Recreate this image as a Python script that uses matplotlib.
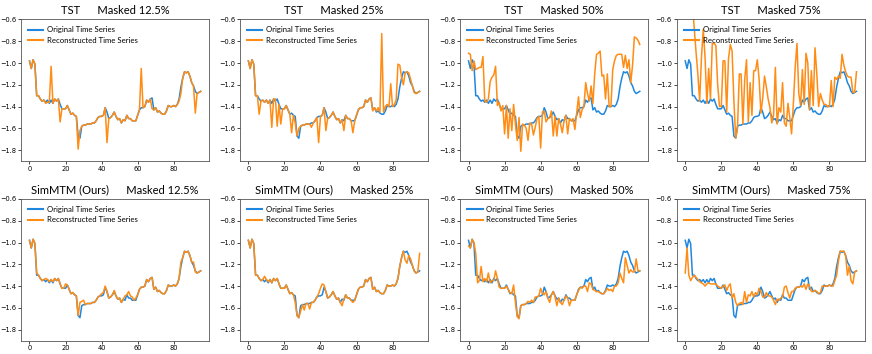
import matplotlib
matplotlib.use("Agg")
import matplotlib.pyplot as plt
import numpy as np

steps = list(range(96))

original = [
    -0.98, -1.05, -0.97, -1.01, -1.30, -1.30, -1.33, -1.35, -1.34, -1.36,
    -1.34, -1.37, -1.34, -1.37, -1.33, -1.35, -1.33, -1.38, -1.42, -1.42,
    -1.42, -1.39, -1.43, -1.47, -1.46, -1.48, -1.49, -1.67, -1.69, -1.58,
    -1.57, -1.57, -1.56, -1.56, -1.56, -1.55, -1.55, -1.53, -1.50, -1.49,
    -1.49, -1.48, -1.41, -1.45, -1.51, -1.50, -1.48, -1.45, -1.49, -1.52,
    -1.51, -1.55, -1.52, -1.53, -1.48, -1.51, -1.51, -1.53, -1.53, -1.53,
    -1.48, -1.43, -1.41, -1.41, -1.40, -1.34, -1.36, -1.33, -1.32, -1.43,
    -1.41, -1.45, -1.44, -1.46, -1.47, -1.47, -1.44, -1.39, -1.40, -1.40,
    -1.39, -1.40, -1.38, -1.33, -1.22, -1.14, -1.08, -1.09, -1.08, -1.12,
    -1.18, -1.21, -1.26, -1.28, -1.27, -1.26,
]

tst_125 = [
    -0.98, -1.05, -0.97, -1.01, -1.30, -1.30, -1.33, -1.35, -1.34, -1.37,
    -1.36, -1.36, -1.03, -1.37, -1.33, -1.35, -1.33, -1.54, -1.42, -1.42,
    -1.42, -1.39, -1.43, -1.47, -1.46, -1.48, -1.49, -1.79, -1.62, -1.58,
    -1.57, -1.57, -1.56, -1.56, -1.56, -1.55, -1.55, -1.53, -1.50, -1.49,
    -1.49, -1.48, -1.41, -1.73, -1.51, -1.50, -1.48, -1.45, -1.49, -1.52,
    -1.51, -1.55, -1.52, -1.53, -1.48, -1.51, -1.51, -1.53, -1.53, -1.53,
    -1.48, -1.43, -1.05, -1.41, -1.40, -1.34, -1.36, -1.33, -1.42, -1.43,
    -1.41, -1.45, -1.44, -1.46, -1.47, -1.47, -1.44, -1.39, -1.40, -1.40,
    -1.39, -1.40, -1.38, -1.35, -1.28, -1.14, -1.08, -1.09, -1.08, -1.12,
    -1.18, -1.21, -1.46, -1.28, -1.27, -1.26,
]

tst_25 = [
    -0.98, -1.05, -0.97, -1.01, -1.30, -1.30, -1.47, -1.35, -1.34, -1.36,
    -1.34, -1.37, -1.34, -1.59, -1.33, -1.33, -1.58, -1.38, -1.56, -1.42,
    -1.42, -1.39, -1.43, -1.47, -1.64, -1.48, -1.55, -1.67, -1.60, -1.58,
    -1.57, -1.57, -1.56, -1.56, -1.56, -1.59, -1.55, -1.53, -1.50, -1.73,
    -1.49, -1.48, -1.41, -1.62, -1.51, -1.50, -1.48, -1.45, -1.49, -1.52,
    -1.51, -1.55, -1.52, -1.62, -1.48, -1.51, -1.51, -1.53, -1.64, -1.53,
    -1.48, -1.43, -1.41, -1.41, -1.40, -1.34, -1.36, -1.33, -1.32, -1.44,
    -1.41, -1.44, -1.41, -1.45, -0.73, -1.45, -1.40, -1.38, -1.40, -1.19,
    -1.40, -1.38, -1.34, -1.01, -1.02, -1.13, -1.20, -1.09, -1.08, -1.09,
    -1.15, -1.21, -1.27, -1.28, -1.27, -1.26,
]

tst_50 = [
    -0.91, -0.92, -1.07, -0.98, -1.06, -1.05, -1.04, -1.04, -0.94, -1.35,
    -1.36, -1.33, -1.17, -1.13, -1.11, -1.03, -1.39, -1.36, -1.44, -1.39,
    -1.65, -1.39, -1.69, -1.42, -1.62, -1.38, -1.56, -1.71, -1.50, -1.81,
    -1.56, -1.57, -1.60, -1.71, -1.55, -1.56, -1.66, -1.59, -1.51, -1.49,
    -1.78, -1.45, -1.44, -1.54, -1.51, -1.50, -1.44, -1.67, -1.49, -1.67,
    -1.51, -1.56, -1.64, -1.53, -1.48, -1.65, -1.51, -1.53, -1.51, -1.61,
    -1.46, -1.31, -1.50, -1.43, -1.40, -1.18, -1.28, -1.35, -1.21, -1.37,
    -1.10, -0.92, -0.91, -0.89, -1.12, -1.11, -1.33, -1.10, -1.40, -1.40,
    -1.06, -0.98, -0.93, -0.92, -0.92, -0.92, -1.04, -0.93, -1.05, -0.97,
    -1.18, -1.02, -0.76, -0.77, -0.79, -0.83,
]

tst_75 = [
    -0.30, -0.34, -0.38, -0.42, -0.46, -0.68, -0.90, -1.10, -1.35, -0.95,
    -0.69, -0.95, -1.37, -1.05, -1.33, -0.82, -0.82, -0.84, -1.20, -1.40,
    -1.40, -0.98, -0.98, -1.45, -0.96, -0.83, -0.89, -1.35, -1.69, -1.60,
    -1.10, -1.10, -1.56, -1.15, -0.97, -1.54, -1.18, -1.48, -1.07, -1.07,
    -0.97, -1.15, -1.46, -1.32, -1.12, -1.22, -1.33, -1.41, -1.55, -1.48,
    -1.04, -1.56, -1.41, -1.45, -1.18, -1.55, -1.58, -1.37, -1.50, -1.65,
    -1.37, -1.04, -0.82, -1.28, -1.39, -1.06, -1.38, -0.91, -1.00, -1.43,
    -1.07, -1.39, -0.86, -1.10, -1.40, -1.28, -1.34, -1.38, -1.38, -1.40,
    -1.40, -1.16, -1.40, -1.13, -1.15, -1.12, -1.14, -0.92, -1.02, -1.08,
    -1.12, -1.13, -1.13, -1.27, -1.27, -1.08,
]

sim_125 = [
    -0.98, -1.05, -0.97, -1.01, -1.28, -1.30, -1.33, -1.35, -1.34, -1.33,
    -1.34, -1.36, -1.34, -1.36, -1.33, -1.35, -1.33, -1.38, -1.42, -1.42,
    -1.38, -1.39, -1.43, -1.47, -1.46, -1.48, -1.49, -1.67, -1.55, -1.54,
    -1.53, -1.57, -1.56, -1.56, -1.56, -1.55, -1.55, -1.53, -1.50, -1.49,
    -1.47, -1.46, -1.40, -1.45, -1.51, -1.50, -1.48, -1.44, -1.49, -1.52,
    -1.51, -1.55, -1.52, -1.49, -1.48, -1.45, -1.49, -1.50, -1.53, -1.51,
    -1.48, -1.43, -1.41, -1.41, -1.40, -1.34, -1.36, -1.33, -1.32, -1.43,
    -1.41, -1.45, -1.44, -1.46, -1.47, -1.47, -1.44, -1.39, -1.40, -1.40,
    -1.39, -1.40, -1.38, -1.33, -1.18, -1.14, -1.08, -1.09, -1.08, -1.12,
    -1.18, -1.18, -1.27, -1.28, -1.27, -1.26,
]

sim_25 = [
    -0.98, -1.05, -0.97, -1.01, -1.30, -1.30, -1.33, -1.35, -1.34, -1.31,
    -1.34, -1.36, -1.34, -1.37, -1.33, -1.35, -1.33, -1.38, -1.42, -1.42,
    -1.42, -1.39, -1.43, -1.47, -1.46, -1.48, -1.55, -1.67, -1.69, -1.63,
    -1.57, -1.62, -1.56, -1.56, -1.61, -1.55, -1.55, -1.53, -1.50, -1.47,
    -1.42, -1.38, -1.39, -1.45, -1.51, -1.50, -1.48, -1.45, -1.49, -1.52,
    -1.51, -1.55, -1.58, -1.52, -1.48, -1.51, -1.51, -1.53, -1.55, -1.53,
    -1.48, -1.43, -1.41, -1.41, -1.40, -1.34, -1.36, -1.33, -1.32, -1.43,
    -1.41, -1.45, -1.44, -1.46, -1.47, -1.47, -1.44, -1.39, -1.40, -1.40,
    -1.39, -1.40, -1.38, -1.33, -1.22, -1.14, -1.08, -1.16, -1.19, -1.12,
    -1.15, -1.21, -1.26, -1.28, -1.27, -1.10,
]

sim_50 = [
    -1.03, -1.05, -0.97, -1.00, -1.10, -1.37, -1.35, -1.22, -1.36, -1.33,
    -1.36, -1.28, -1.37, -1.35, -1.35, -1.26, -1.33, -1.41, -1.42, -1.42,
    -1.42, -1.40, -1.43, -1.46, -1.47, -1.39, -1.55, -1.68, -1.70, -1.58,
    -1.57, -1.57, -1.56, -1.54, -1.55, -1.53, -1.55, -1.50, -1.50, -1.49,
    -1.42, -1.47, -1.48, -1.45, -1.51, -1.55, -1.48, -1.45, -1.50, -1.58,
    -1.51, -1.55, -1.57, -1.53, -1.49, -1.51, -1.58, -1.53, -1.53, -1.53,
    -1.48, -1.44, -1.41, -1.42, -1.40, -1.40, -1.45, -1.37, -1.38, -1.43,
    -1.44, -1.45, -1.45, -1.46, -1.47, -1.47, -1.45, -1.42, -1.44, -1.43,
    -1.45, -1.40, -1.40, -1.37, -1.28, -1.33, -1.37, -1.14, -1.21, -1.28,
    -1.25, -1.27, -1.27, -1.15, -1.26, -1.26,
]

sim_75 = [
    -1.28, -1.05, -1.30, -1.35, -1.32, -1.30, -1.32, -1.34, -1.36, -1.37,
    -1.38, -1.40, -1.38, -1.37, -1.38, -1.38, -1.38, -1.38, -1.40, -1.41,
    -1.42, -1.40, -1.39, -1.44, -1.40, -1.38, -1.51, -1.47, -1.55, -1.58,
    -1.56, -1.55, -1.57, -1.45, -1.55, -1.48, -1.49, -1.45, -1.50, -1.46,
    -1.48, -1.42, -1.45, -1.50, -1.50, -1.46, -1.49, -1.49, -1.50, -1.53,
    -1.57, -1.52, -1.53, -1.51, -1.50, -1.41, -1.40, -1.46, -1.51, -1.45,
    -1.45, -1.42, -1.41, -1.41, -1.40, -1.41, -1.38, -1.43, -1.38, -1.40,
    -1.45, -1.45, -1.44, -1.45, -1.47, -1.46, -1.40, -1.40, -1.40, -1.40,
    -1.39, -1.40, -1.40, -1.35, -1.30, -1.17, -1.08, -1.08, -1.08, -1.12,
    -1.30, -1.22, -1.35, -1.38, -1.27, -1.26,
]

methods = ["TST", "SimMTM (Ours)"]
mask_labels = ["12.5%", "25%", "50%", "75%"]
reconstructions = [
    [tst_125, tst_25, tst_50, tst_75],
    [sim_125, sim_25, sim_50, sim_75],
]

BLUE = "#1f88de"
ORANGE = "#ff8c14"

fig = plt.figure(figsize=(8.72, 3.54), dpi=100)
lefts = [0.024, 0.275, 0.5275, 0.776]
bottoms = [0.545, 0.038]
w, h = 0.2160, 0.400

for r in range(2):
    for c in range(4):
        ax = fig.add_axes([lefts[c], bottoms[r], w, h])
        ax.plot(steps, original, color=BLUE, lw=1.1, label="Original Time Series")
        ax.plot(steps, reconstructions[r][c], color=ORANGE, lw=1.1,
                label="Reconstructed Time Series")
        ax.set_ylim(-1.9, -0.6)
        ax.set_xlim(-4.75, 99.75)
        ax.set_xticks([0, 20, 40, 60, 80])
        ax.set_yticks([-0.6, -0.8, -1.0, -1.2, -1.4, -1.6, -1.8])
        ax.tick_params(labelsize=4.8, length=2, width=0.5, pad=1.5)
        for s in ax.spines.values():
            s.set_linewidth(0.6)
            s.set_color("#555555")
        ax.set_title(f"{methods[r]}      Masked {mask_labels[c]}",
                     fontsize=8.0, family="Lato", pad=4)
        leg = ax.legend(loc="upper left", frameon=False,
                        prop={"family": "Lato", "size": 5.6},
                        handlelength=2.0, handletextpad=0.45,
                        borderaxespad=0.5, labelspacing=0.45)
        for line in leg.get_lines():
            line.set_linewidth(1.5)

fig.savefig("out.png", dpi=100)
